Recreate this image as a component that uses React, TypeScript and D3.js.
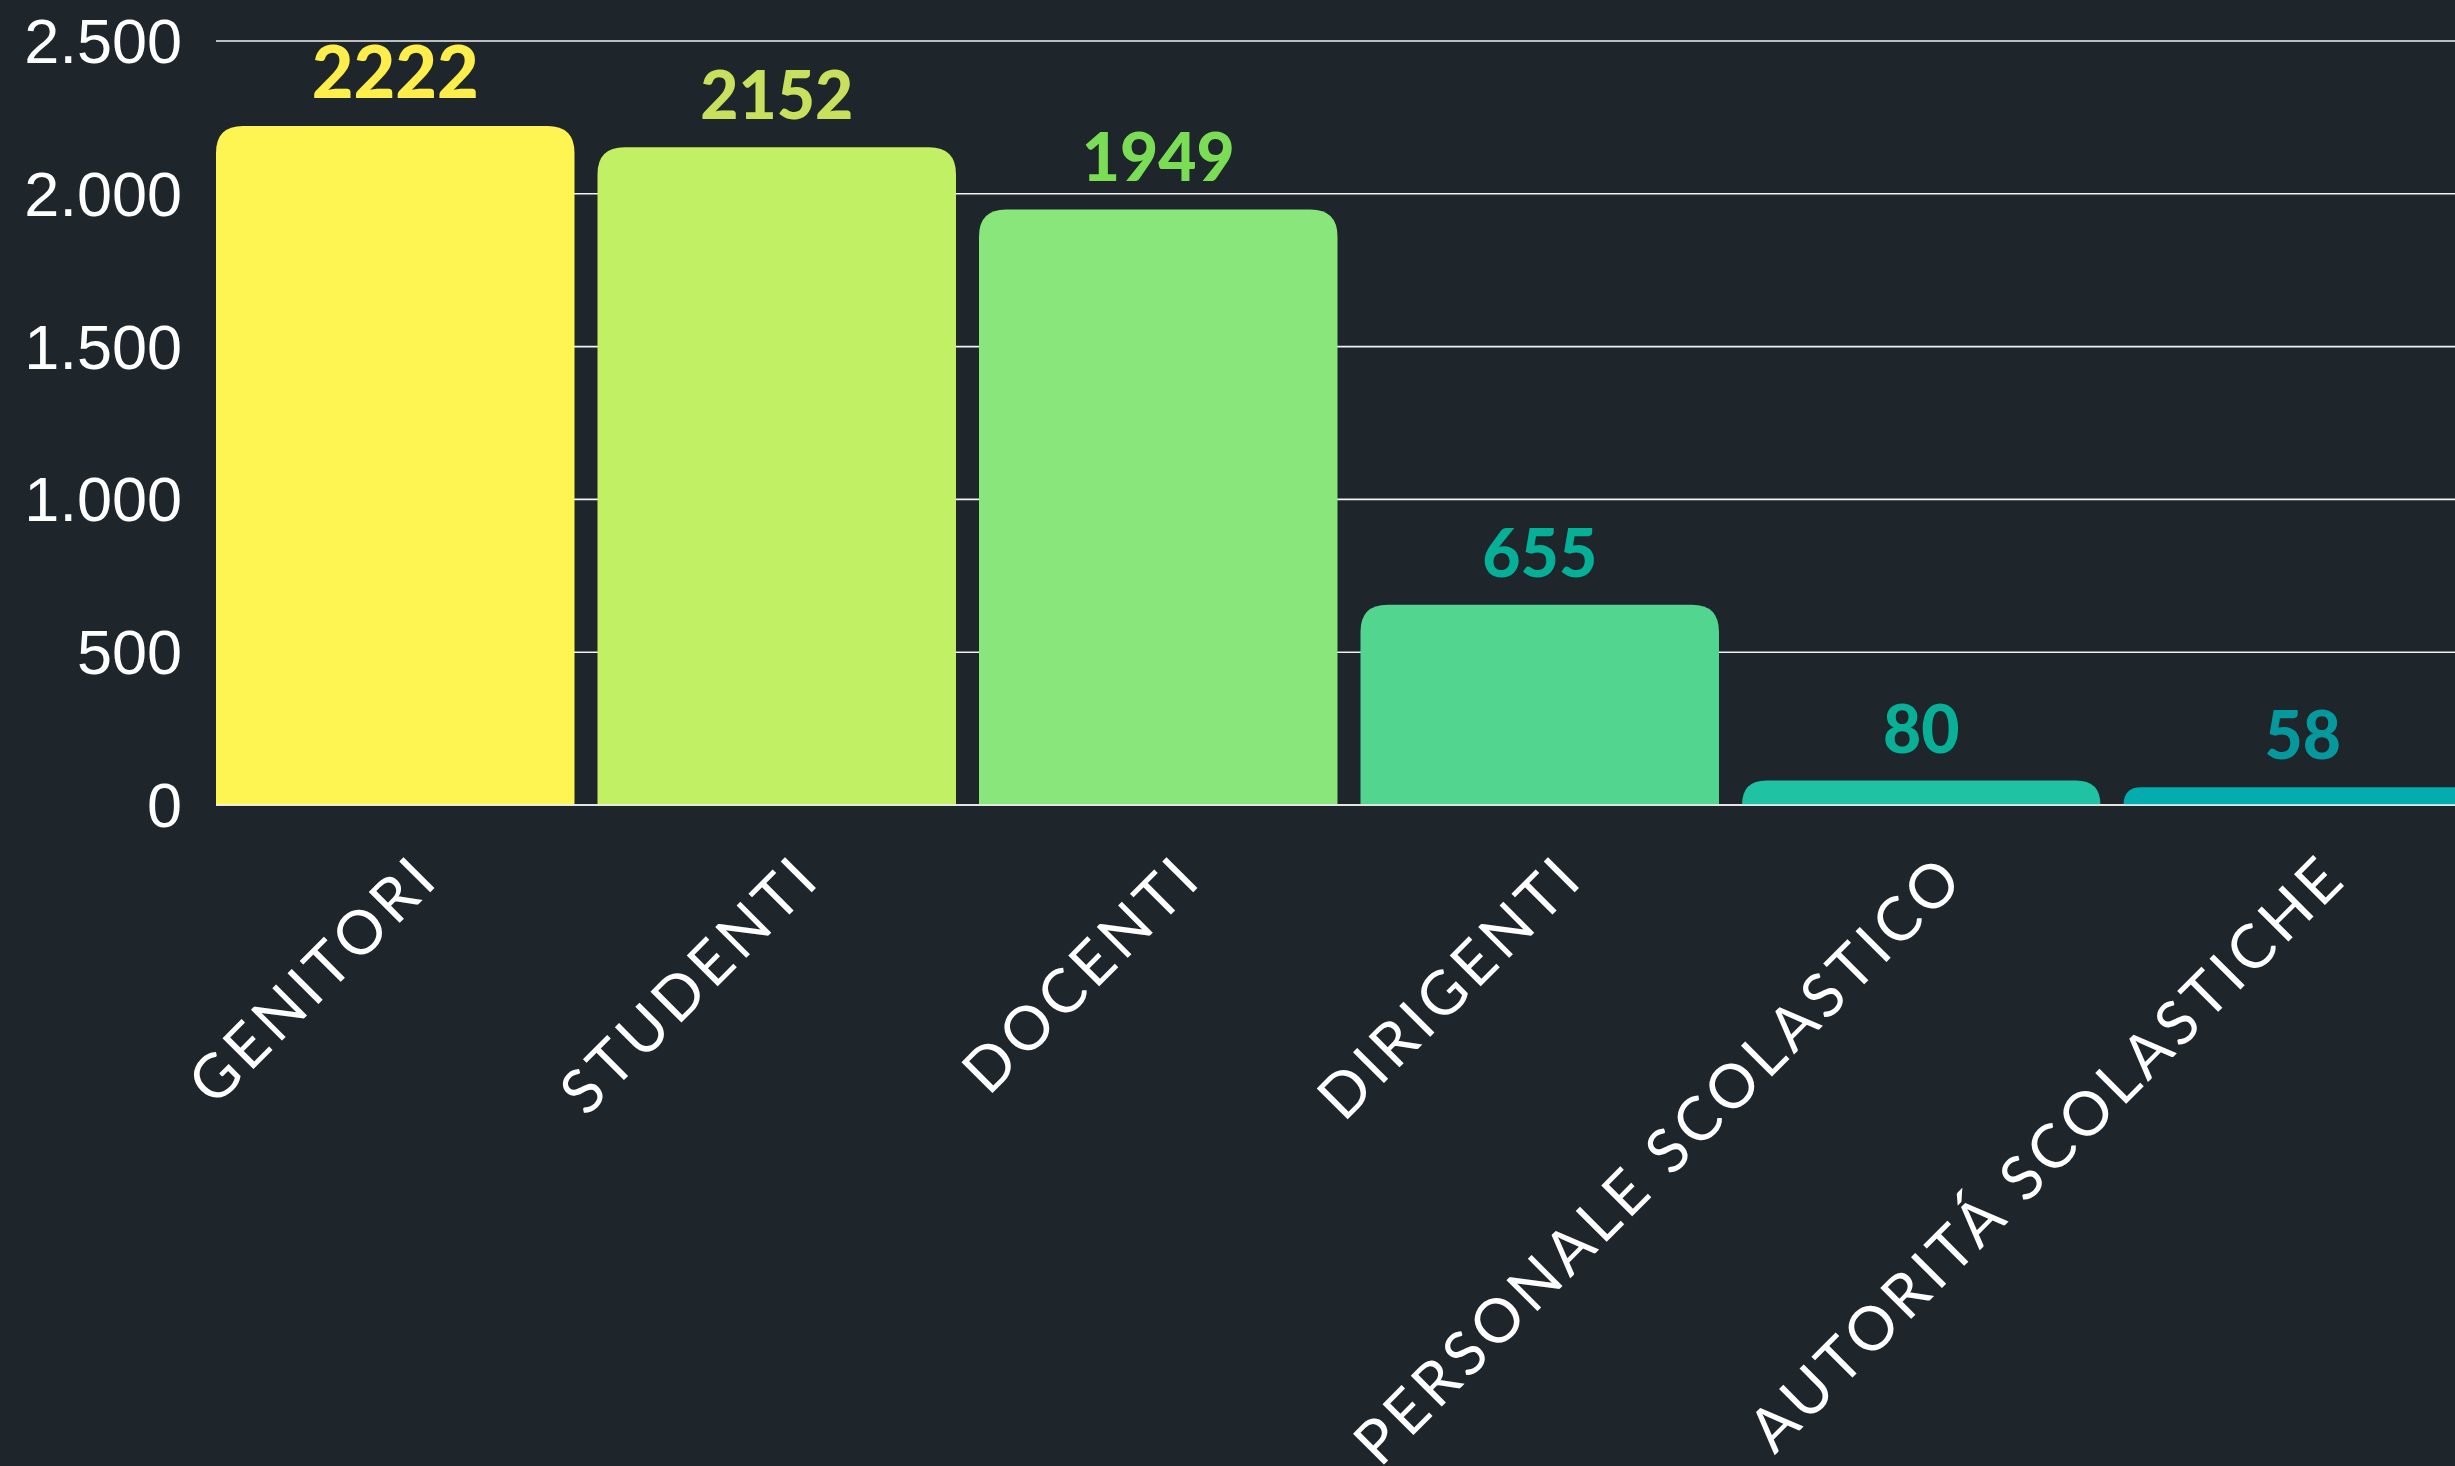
import React from "react";
import * as d3 from "d3";

const categories = [
  "GENITORI",
  "STUDENTI",
  "DOCENTI",
  "DIRIGENTI",
  "PERSONALE SCOLASTICO",
  "AUTORITÁ SCOLASTICHE",
];
const values = [2222, 2152, 1949, 655, 80, 58];
const barColors = ["#FFF552", "#C2F064", "#88E67B", "#52D58F", "#1FC2A2", "#03ADAD"];
const labelColors = ["#FDEE4B", "#C8E05E", "#7BDC56", "#05B097", "#07B096", "#05999E"];
const yTicks = [0, 500, 1000, 1500, 2000, 2500];

const W = 2455;
const H = 1466;
const BG = "#1E252B";

const locale = d3.formatLocale({
  decimal: ",",
  thousands: ".",
  grouping: [3],
  currency: ["", "€"],
});
const fmtTick = locale.format(",d");

export default function App() {
  const x = d3
    .scaleBand<string>()
    .domain(categories)
    .range([216, 2482])
    .paddingInner(0.0603)
    .paddingOuter(0);
  const y = d3.scaleLinear().domain([0, 2500]).range([805, 41]);
  const bw = x.bandwidth();

  const barPath = (i: number) => {
    const x0 = x(categories[i]) as number;
    const x1 = x0 + bw;
    const yb = y(0);
    const yt = y(values[i]);
    const h = yb - yt;
    const r = Math.min(27, h);
    const p = d3.path();
    p.moveTo(x0, yb);
    p.lineTo(x0, yt + r);
    p.quadraticCurveTo(x0, yt, x0 + r, yt);
    p.lineTo(x1 - r, yt);
    p.quadraticCurveTo(x1, yt, x1, yt + r);
    p.lineTo(x1, yb);
    p.closePath();
    return p.toString();
  };

  return (
    <div style={{ position: "fixed", left: 0, top: 0, width: W, height: H, overflow: "hidden", background: BG }}>
      <svg width={W} height={H} style={{ display: "block", background: BG }}>
        <rect x={0} y={0} width={W} height={H} fill={BG} />
        {yTicks.map((t) => (
          <line
            key={"g" + t}
            x1={216}
            x2={W}
            y1={y(t)}
            y2={y(t)}
            stroke="#F2F2F2"
            strokeWidth={1.6}
          />
        ))}
        {yTicks.map((t) => (
          <text
            key={"yt" + t}
            x={182}
            y={y(t)}
            textAnchor="end"
            dominantBaseline="central"
            fill="#FFFFFF"
            fontFamily="'Liberation Sans', Arial, sans-serif"
            fontSize={63}
          >
            {fmtTick(t)}
          </text>
        ))}
        {values.map((v, i) => (
          <path key={"b" + i} d={barPath(i)} fill={barColors[i]} />
        ))}
        <line x1={216} x2={W} y1={y(0)} y2={y(0)} stroke="#F2F2F2" strokeWidth={1.6} />
        {values.map((v, i) => (
          <text
            key={"v" + i}
            x={(x(categories[i]) as number) + bw / 2}
            y={y(v) - 28}
            textAnchor="middle"
            fill={labelColors[i]}
            fontFamily="Lato, 'Open Sans', sans-serif"
            fontWeight={900}
            fontSize={i === 0 ? 72 : 66}
          >
            {v}
          </text>
        ))}
        {categories.map((c, i) => {
          const cx = (x(c) as number) + bw / 2 + 30;
          const cy = 864;
          return (
            <text
              key={"x" + i}
              transform={`translate(${cx},${cy}) rotate(-45)`}
              textAnchor="end"
              dominantBaseline="central"
              fill="#FFFFFF"
              fontFamily="Lato, 'Open Sans', sans-serif"
              fontSize={61}
              letterSpacing={5}
            >
              {c}
            </text>
          );
        })}
      </svg>
    </div>
  );
}
